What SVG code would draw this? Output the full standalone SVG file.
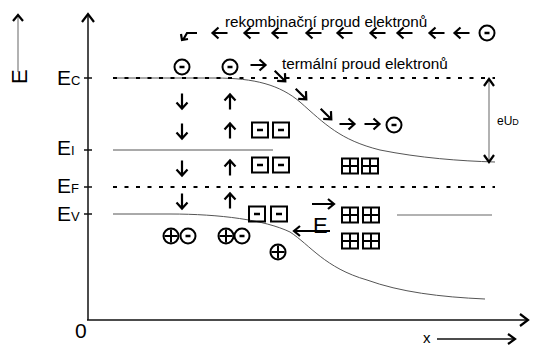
<svg xmlns="http://www.w3.org/2000/svg" width="533" height="345" viewBox="0 0 533 345">
<style>
.t{font-family:"Liberation Sans",Arial,sans-serif;fill:#000}
.ar{fill:none;stroke:#000;stroke-width:2.2}
.ch{fill:none;stroke:#000;stroke-width:2}
.mn{fill:none;stroke:#000;stroke-width:2.5}
.curve{fill:none;stroke:#555;stroke-width:1}
.dot{fill:none;stroke:#000;stroke-width:2;stroke-dasharray:4 7.5}
.ax{fill:none;stroke:#111;stroke-width:1.5}
.gl{fill:none;stroke:#999;stroke-width:1.5}
</style>
<defs>
<path id="a" d="M-7.5,0H7.5M1.5,-5.5L7.5,0L1.5,5.5" class="ar"/>
<g id="em"><circle r="7.5" class="ch"/><path d="M-2.5,0H2.5" class="mn"/></g>
<g id="hp"><circle r="7.5" class="ch"/><path d="M-6.5,0H6.5M0,-6.5V6.5" class="ch"/></g>
<g id="bm"><rect x="-8" y="-7.5" width="16" height="15" class="ch"/><path d="M-3,0H3" class="mn"/></g>
<g id="bp"><rect x="-8" y="-7.5" width="16" height="15" class="ch"/><path d="M-8,0H8M0,-7.5V7.5" class="ch"/></g>
</defs>

<g id="axes">
<path class="gl" d="M18,72V16"/>
<path class="ar" d="M13,21L18,15L23,21"/>
<text class="t" font-size="22" transform="translate(27,84) rotate(-90)">E</text>
<path class="ax" d="M88,320V15"/>
<path class="ar" d="M82,22L88,14L94,22"/>
<path class="ax" d="M87,320H527"/>
<path class="ar" d="M520,314L528,320L520,326"/>
<text class="t" x="75" y="338" font-size="21">0</text>
<text class="t" x="423" y="343" font-size="15">x</text>
<path class="ax" d="M437,339H514"/>
<path class="ar" d="M508,334L515,339L508,344"/>
<path class="ax" d="M84,78H92M84,150H92M84,187H92M84,214H92"/>
</g>

<g id="labels">
<text class="t" x="57" y="85" font-size="21">E<tspan font-size="13">C</tspan></text>
<text class="t" x="57" y="155" font-size="21">E<tspan font-size="13">I</tspan></text>
<text class="t" x="57" y="193" font-size="21">E<tspan font-size="13">F</tspan></text>
<text class="t" x="57" y="221" font-size="21">E<tspan font-size="13">V</tspan></text>
<text class="t" x="225" y="27" font-size="15.3">rekombinační proud elektronů</text>
<text class="t" x="282" y="69" font-size="15.3">termální proud elektronů</text>
<text class="t" x="497" y="125" font-size="12">eU<tspan font-size="9">D</tspan></text>
</g>

<g id="bands">
<path class="curve" d="M113,78L215,78C255,78 280,85 300,102C325,124 340,140 380,150C420,158 460,161 495,162"/>
<path class="curve" d="M113,214L170,214C220,214 265,220 290,232C310,245 325,268 367,280C400,292 440,297 485,299"/>
<path class="curve" d="M113,150H273" stroke="#777"/>
<path class="gl" d="M397,215H492"/>
<path class="dot" d="M113,78H495"/>
<path class="dot" d="M113,187H495"/>
</g>

<g id="eud">
<path class="gl" d="M489,80V161"/>
<path class="ar" d="M484,86L489,79L494,86M484,155L489,162L494,155"/>
</g>

<g id="recombination">
<use href="#em" x="487" y="33"/>
<use href="#a" transform="translate(462,33) rotate(180)"/>
<use href="#a" transform="translate(437,33) rotate(180)"/>
<use href="#a" transform="translate(405,33) rotate(180)"/>
<use href="#a" transform="translate(378,33) rotate(180)"/>
<use href="#a" transform="translate(345,33) rotate(180)"/>
<use href="#a" transform="translate(314,33) rotate(180)"/>
<use href="#a" transform="translate(280,33) rotate(180)"/>
<use href="#a" transform="translate(252,33) rotate(180)"/>
<use href="#a" transform="translate(220,33) rotate(180)"/>
<path class="ar" d="M197,33H187L183,40M181,34L182,40L188,39"/>
</g>

<g id="thermal">
<use href="#em" x="182" y="67"/>
<use href="#em" x="230" y="67"/>
<use href="#a" transform="translate(258,65)"/>
<use href="#a" transform="translate(280,76) rotate(45)"/>
<use href="#a" transform="translate(301,94) rotate(45)"/>
<use href="#a" transform="translate(326,114) rotate(45)"/>
<use href="#a" transform="translate(347,124)"/>
<use href="#a" transform="translate(372,124)"/>
<use href="#em" x="394" y="125"/>
</g>

<g id="vertical-arrows">
<use href="#a" transform="translate(182,101) rotate(90)"/>
<use href="#a" transform="translate(182,131) rotate(90)"/>
<use href="#a" transform="translate(182,168) rotate(90)"/>
<use href="#a" transform="translate(182,201) rotate(90)"/>
<use href="#a" transform="translate(230,102) rotate(-90)"/>
<use href="#a" transform="translate(230,131) rotate(-90)"/>
<use href="#a" transform="translate(230,168) rotate(-90)"/>
<use href="#a" transform="translate(230,201) rotate(-90)"/>
</g>

<g id="acceptors">
<use href="#bm" x="260" y="130"/>
<use href="#bm" x="281" y="130"/>
<use href="#bm" x="260" y="165"/>
<use href="#bm" x="281" y="165"/>
<use href="#bm" x="257" y="214"/>
<use href="#bm" x="279" y="214"/>
</g>

<g id="donors">
<use href="#bp" x="350" y="166"/>
<use href="#bp" x="370" y="166"/>
<use href="#bp" x="350" y="215"/>
<use href="#bp" x="371" y="215"/>
<use href="#bp" x="350" y="241"/>
<use href="#bp" x="371" y="241"/>
</g>

<g id="carriers">
<use href="#hp" x="171" y="236"/>
<use href="#em" x="188" y="236"/>
<use href="#hp" x="226" y="236"/>
<use href="#em" x="242" y="236"/>
<use href="#hp" x="278" y="252"/>
</g>

<g id="field">
<text class="t" x="313" y="233" font-size="22">E</text>
<path class="ar" d="M312,204H334M328,199L334,204L328,209"/>
<path class="ar" d="M294,231H330M300,226L294,231L300,236"/>
</g>
</svg>
